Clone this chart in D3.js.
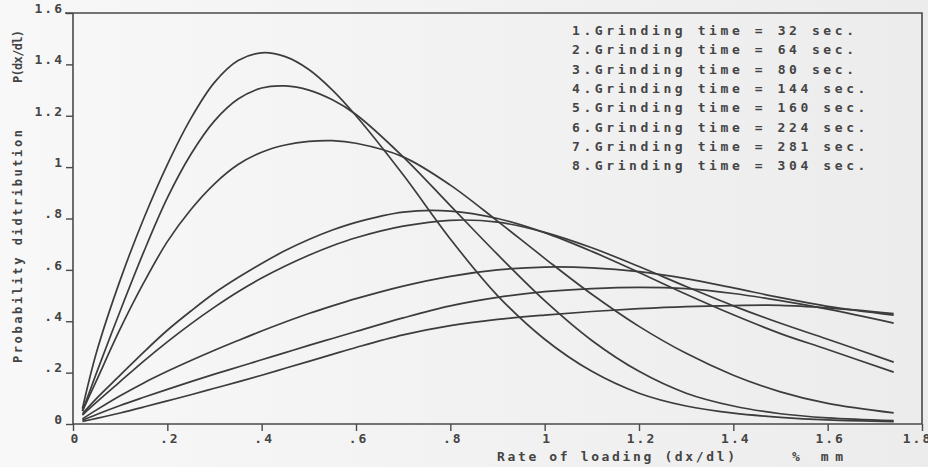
<!DOCTYPE html>
<html>
<head>
<meta charset="utf-8">
<script src="https://cdn.jsdelivr.net/npm/d3@7"></script>
<style>
  body { margin: 0; background: #f3f3f3; }
  text { font-family: "DejaVu Sans Mono", monospace; font-weight: bold; fill: #444; }
</style>
</head>
<body>
<script>
// values
var xs = [0.02, 0.05, 0.1, 0.15, 0.2, 0.25, 0.3, 0.35, 0.4, 0.45, 0.5, 0.55, 0.6,
          0.7, 0.8, 0.9, 1.0, 1.1, 1.2, 1.3, 1.4, 1.5, 1.6, 1.74];

var curve1 = [0.06, 0.28, 0.56, 0.8, 1.01, 1.19, 1.33, 1.415, 1.445, 1.43, 1.38, 1.3, 1.2,
              0.97, 0.72, 0.5, 0.33, 0.205, 0.12, 0.07, 0.042, 0.026, 0.016, 0.009];
var curve2 = [0.05, 0.2, 0.44, 0.67, 0.88, 1.05, 1.18, 1.265, 1.308, 1.316, 1.3, 1.262, 1.205,
              1.04, 0.85, 0.66, 0.48, 0.325, 0.205, 0.12, 0.07, 0.04, 0.024, 0.013];
var curve3 = [0.05, 0.17, 0.37, 0.55, 0.71, 0.835, 0.935, 1.01, 1.058, 1.086, 1.1, 1.103, 1.093,
              1.04, 0.93, 0.79, 0.645, 0.505, 0.38, 0.275, 0.19, 0.125, 0.08, 0.043];
var curve4 = [0.04, 0.1, 0.19, 0.28, 0.365, 0.44, 0.51, 0.57, 0.625, 0.675, 0.718, 0.755, 0.785,
              0.825, 0.829, 0.8, 0.745, 0.672, 0.59, 0.505, 0.425, 0.352, 0.29, 0.202];
var curve5 = [0.035, 0.085, 0.165, 0.245, 0.32, 0.39, 0.455, 0.515, 0.568, 0.615, 0.657, 0.694, 0.725,
              0.77, 0.793, 0.786, 0.746, 0.686, 0.613, 0.535, 0.46, 0.392, 0.33, 0.241];
var curve6 = [0.02, 0.055, 0.11, 0.16, 0.205, 0.247, 0.287, 0.325, 0.362, 0.397, 0.43, 0.46, 0.488,
              0.537, 0.575, 0.6, 0.611, 0.608, 0.593, 0.566, 0.53, 0.492, 0.458, 0.424];
var curve7 = [0.015, 0.037, 0.072, 0.104, 0.135, 0.165, 0.194, 0.222, 0.25, 0.278, 0.306, 0.333, 0.36,
              0.413, 0.46, 0.493, 0.515, 0.527, 0.532, 0.527, 0.508, 0.48, 0.447, 0.393];
var curve8 = [0.01, 0.022, 0.043, 0.066, 0.09, 0.114, 0.139, 0.164, 0.19, 0.217, 0.244, 0.271, 0.298,
              0.347, 0.383, 0.407, 0.424, 0.438, 0.449, 0.457, 0.461, 0.462, 0.452, 0.43];

var grindTimes = [32, 64, 80, 144, 160, 224, 281, 304];

var xTicks = [0, 0.2, 0.4, 0.6, 0.8, 1.0, 1.2, 1.4, 1.6, 1.8];
var xTickLabels = ["0", ".2", ".4", ".6", ".8", "1", "1.2", "1.4", "1.6", "1.8"];
var yTicks = [0, 0.2, 0.4, 0.6, 0.8, 1.0, 1.2, 1.4, 1.6];
var yTickLabels = ["0", ".2", ".4", ".6", ".8", "1", "1.2", "1.4", "1.6"];

var W = 928, H = 467;
// plot box edges (window.top is taken, hence the prefix)
var boxL = 73, boxR = 922, boxT = 13, boxB = 424;

var x = d3.scaleLinear().domain([0, 1.8]).range([boxL, boxR]);
var y = d3.scaleLinear().domain([0, 1.6]).range([boxB, boxT]);

var svg = d3.select("body").append("svg")
    .attr("width", W)
    .attr("height", H);

// scan paper: a bit whiter on the left
var grad = svg.append("defs").append("linearGradient").attr("id", "paper");
grad.append("stop").attr("offset", "0%").attr("stop-color", "#f8f8f8");
grad.append("stop").attr("offset", "100%").attr("stop-color", "#ececec");
svg.append("rect").attr("width", W).attr("height", H).attr("fill", "url(#paper)");

// frame
svg.append("path")
    .attr("d", "M" + (boxL - 8) + "," + boxT + "H" + boxR + "V" + boxB + "H" + boxL + "V" + boxT)
    .attr("fill", "none")
    .attr("stroke", "#4a4a4a")
    .attr("stroke-width", 1.6);

// x axis: ticks hang below the frame
var xAxis = d3.axisBottom(x)
    .tickValues(xTicks)
    .tickSize(7)
    .tickFormat(function(d, i) { return xTickLabels[i]; });
var gx = svg.append("g")
    .attr("transform", "translate(0," + boxB + ")")
    .call(xAxis);
gx.select(".domain").remove();
gx.selectAll("line").attr("stroke", "#4a4a4a").attr("stroke-width", 1.4);
gx.selectAll("text")
    .attr("y", 10)
    .attr("dx", function(d, i) { return i == xTicks.length - 1 ? -5 : 2; })
    .style("font-size", "13px")
    .style("letter-spacing", "2px")
    .attr("fill", "#444");

// y axis: labels sit on their tick
var yAxis = d3.axisLeft(y)
    .tickValues(yTicks)
    .tickSize(7)
    .tickFormat(function(d, i) { return yTickLabels[i]; });
var gy = svg.append("g")
    .attr("transform", "translate(" + boxL + ",0)")
    .call(yAxis);
gy.select(".domain").remove();
gy.selectAll("line").attr("stroke", "#4a4a4a").attr("stroke-width", 1.4);
gy.selectAll("text")
    .attr("x", -9)
    .attr("dy", "-0.05em")
    .style("font-size", "13px")
    .style("letter-spacing", "2px")
    .attr("fill", "#444");

// curves
var allCurves = [curve1, curve2, curve3, curve4, curve5, curve6, curve7, curve8];
var line = d3.line()
    .x(function(d) { return x(d[0]); })
    .y(function(d) { return y(d[1]); })
    .curve(d3.curveCatmullRom.alpha(0.5));

svg.append("g").selectAll("path")
    .data(allCurves)
  .enter().append("path")
    .attr("d", function(vals) { return line(vals.map(function(v, i) { return [xs[i], v]; })); })
    .attr("fill", "none")
    .attr("stroke", "#3c3c3c")
    .attr("stroke-width", 1.7);

// legend block, top right
svg.append("g").selectAll("text")
    .data(grindTimes)
  .enter().append("text")
    .attr("x", 572)
    .attr("y", function(d, i) { return 35 + i * 19.3; })
    .style("font-size", "13px")
    .attr("textLength", function(d, i) {
      var s = (i + 1) + ".Grinding time = " + d + " sec.";
      return s.length * 11.4 - 3;
    })
    .attr("lengthAdjust", "spacing")
    .text(function(d, i) { return (i + 1) + ".Grinding time = " + d + " sec."; });

// axis titles
svg.append("text")
    .attr("x", 497)
    .attr("y", 461)
    .style("font-size", "13px")
    .attr("textLength", 238)
    .attr("lengthAdjust", "spacing")
    .text("Rate of loading (dx/dl)");
svg.append("text")
    .attr("x", 792)
    .attr("y", 461)
    .style("font-size", "13px")
    .attr("textLength", 51)
    .attr("lengthAdjust", "spacing")
    .text("% mm");

svg.append("text")
    .attr("transform", "translate(22,363) rotate(-90)")
    .style("font-size", "12px")
    .attr("textLength", 233)
    .attr("lengthAdjust", "spacing")
    .text("Probability didtribution");
svg.append("text")
    .attr("transform", "translate(22,83) rotate(-90)")
    .style("font-size", "12px")
    .attr("textLength", 53)
    .attr("lengthAdjust", "spacing")
    .text("P(dx/dl)");
</script>
</body>
</html>
